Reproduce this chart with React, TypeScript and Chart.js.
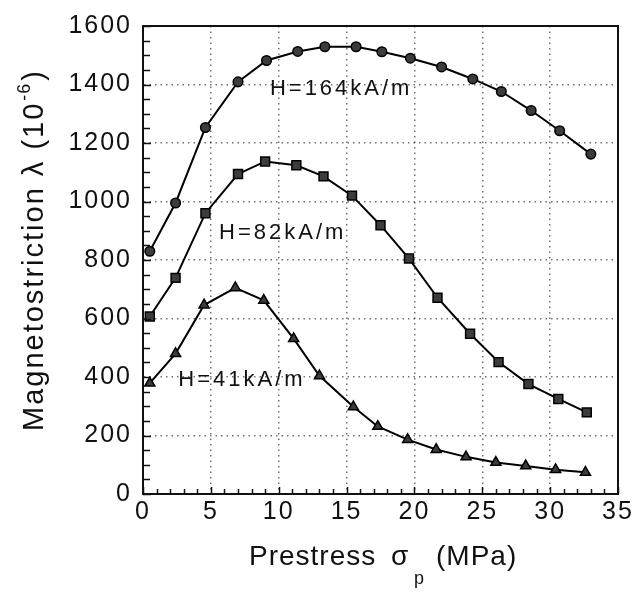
import { useEffect, useRef } from 'react';
import { Chart, registerables } from 'chart.js';

Chart.register(...registerables);

// ---- data ----
const xTickValues = [0, 5, 10, 15, 20, 25, 30, 35];
const yTickValues = [0, 200, 400, 600, 800, 1000, 1200, 1400, 1600];

const x164 = [0.5, 2.4, 4.6, 7.0, 9.1, 11.4, 13.4, 15.7, 17.6, 19.7, 22.0, 24.3, 26.4, 28.6, 30.7, 33.0];
const y164 = [830, 995, 1253, 1409, 1482, 1513, 1529, 1529, 1512, 1490, 1460, 1419, 1376, 1311, 1242, 1162];

const x82 = [0.5, 2.4, 4.6, 7.0, 9.0, 11.3, 13.3, 15.4, 17.5, 19.6, 21.7, 24.1, 26.2, 28.4, 30.6, 32.7];
const y82 = [607, 739, 960, 1094, 1137, 1124, 1086, 1020, 919, 805, 671, 548, 451, 376, 325, 279];

const x41 = [0.5, 2.4, 4.5, 6.8, 8.9, 11.1, 13.0, 15.5, 17.3, 19.5, 21.6, 23.8, 26.0, 28.2, 30.4, 32.6];
const y41 = [379, 480, 646, 705, 662, 531, 404, 298, 231, 186, 152, 127, 108, 96, 83, 74];

const seriesLabels = ['H=164kA/m', 'H=82kA/m', 'H=41kA/m'];
// label anchors in data coordinates (left edge x, vertical centre y)
const labelAnchorX = [9.35, 5.6, 2.6];
const labelAnchorY = [1386, 893, 390];

const xTitle = 'Prestress';
const xTitleSymbol = 'σ';
const xTitleSub = 'p';
const xTitleUnit = '(MPa)';
const yTitle = 'Magnetostriction λ (10';
const yTitleSup = '-6';
const yTitleEnd = ')';

const FONT = '"Liberation Sans", Arial, Helvetica, sans-serif';
const INK = '#111111';

const toPts = (xs: number[], ys: number[]) => xs.map((x, i) => ({ x, y: ys[i] }));

const decorPlugin = {
  id: 'decor',
  beforeLayout(chart: any) {
    chart.ctx.letterSpacing = '2px';
  },
  beforeDraw(chart: any) {
    chart.ctx.letterSpacing = '2px';
  },
  afterDraw(chart: any) {
    const { ctx, chartArea: a, scales } = chart;
    const xs = scales.x;
    const ys = scales.y;
    ctx.save();
    // inner minor ticks
    ctx.strokeStyle = INK;
    ctx.lineWidth = 1.5;
    ctx.setLineDash([]);
    ctx.beginPath();
    for (let v = 0; v <= 35; v += 1) {
      const px = Math.round(xs.getPixelForValue(v)) + 0.5;
      const len = v % 5 === 0 ? 7 : 5;
      ctx.moveTo(px, a.bottom);
      ctx.lineTo(px, a.bottom - len);
    }
    for (let v = 0; v <= 1600; v += 50) {
      const py = Math.round(ys.getPixelForValue(v)) + 0.5;
      const len = v % 200 === 0 ? 8 : 7;
      ctx.moveTo(a.left, py);
      ctx.lineTo(a.left + len, py);
    }
    ctx.stroke();
    // frame
    ctx.lineWidth = 2;
    ctx.strokeRect(a.left, a.top, a.right - a.left, a.bottom - a.top);

    // series annotations
    ctx.fillStyle = INK;
    ctx.font = `22px ${FONT}`;
    ctx.letterSpacing = '3px';
    ctx.textAlign = 'left';
    ctx.textBaseline = 'middle';
    seriesLabels.forEach((t, i) => {
      ctx.fillText(t, xs.getPixelForValue(labelAnchorX[i]), ys.getPixelForValue(labelAnchorY[i]));
    });

    // x title
    ctx.textBaseline = 'alphabetic';
    ctx.font = `28px ${FONT}`;
    ctx.letterSpacing = '1px';
    const bx = 249;
    const by = 565;
    ctx.fillText(xTitle, bx, by);
    ctx.fillText(xTitleSymbol, 391, by);
    ctx.font = `18px ${FONT}`;
    ctx.fillText(xTitleSub, 414, by + 19);
    ctx.font = `28px ${FONT}`;
    ctx.fillText(xTitleUnit, 436, by);

    // y title (rotated)
    ctx.save();
    ctx.translate(43, 431);
    ctx.rotate(-Math.PI / 2);
    ctx.font = `29px ${FONT}`;
    ctx.letterSpacing = '2px';
    let w = ctx.measureText(yTitle).width;
    ctx.fillText(yTitle, 0, 0);
    ctx.font = `18px ${FONT}`;
    ctx.letterSpacing = '1px';
    ctx.fillText(yTitleSup, w + 1, -13);
    w += ctx.measureText(yTitleSup).width + 3;
    ctx.font = `29px ${FONT}`;
    ctx.letterSpacing = '2px';
    ctx.fillText(yTitleEnd, w, 0);
    ctx.restore();

    ctx.restore();
    ctx.letterSpacing = '2px';
  },
};

const markerStyle = {
  borderColor: '#000000',
  borderWidth: 2,
  pointBackgroundColor: '#3c3c3c',
  pointBorderColor: '#000000',
  pointBorderWidth: 1.5,
  tension: 0,
  fill: false,
};

export default function App() {
  const ref = useRef<HTMLCanvasElement | null>(null);

  useEffect(() => {
    if (!ref.current) return;
    const chart = new Chart(ref.current, {
      type: 'line',
      data: {
        datasets: [
          { label: seriesLabels[0], data: toPts(x164, y164), pointStyle: 'circle', pointRadius: 4.8, ...markerStyle },
          { label: seriesLabels[1], data: toPts(x82, y82), pointStyle: 'rect', pointRadius: 6.3, ...markerStyle },
          { label: seriesLabels[2], data: toPts(x41, y41), pointStyle: 'triangle', pointRadius: 5.8, ...markerStyle },
        ],
      },
      options: {
        responsive: false,
        animation: false,
        events: [],
        layout: { padding: { left: 0, right: 19, top: 24, bottom: 0 } },
        plugins: {
          legend: { display: false },
          tooltip: { enabled: false },
          title: { display: false },
        },
        scales: {
          x: {
            type: 'linear',
            min: 0,
            max: 35,
            afterBuildTicks: (s: any) => {
              s.ticks = xTickValues.map((v) => ({ value: v }));
            },
            afterFit: (s: any) => {
              s.height = 99;
            },
            ticks: {
              autoSkip: false,
              maxRotation: 0,
              padding: 3,
              color: INK,
              font: { family: FONT, size: 25 },
              callback: (v: any) => String(v),
            },
            grid: {
              drawTicks: false,
              color: 'rgba(0,0,0,0.55)',
              lineWidth: 1.5,
            },
            border: { display: true, color: INK, width: 2, dash: [1.5, 4] },
          },
          y: {
            type: 'linear',
            min: 0,
            max: 1600,
            afterBuildTicks: (s: any) => {
              s.ticks = yTickValues.map((v) => ({ value: v }));
            },
            afterFit: (s: any) => {
              s.width = 143;
            },
            ticks: {
              padding: 11,
              color: INK,
              font: { family: FONT, size: 25 },
              callback: (v: any) => String(v),
            },
            grid: {
              drawTicks: false,
              color: 'rgba(0,0,0,0.55)',
              lineWidth: 1.5,
            },
            border: { display: true, color: INK, width: 2, dash: [1.5, 4] },
          },
        },
      },
      plugins: [decorPlugin],
    } as any);
    return () => chart.destroy();
  }, []);

  return (
    <div style={{ position: 'absolute', left: 0, top: 0, width: 637, height: 593, background: '#ffffff' }}>
      <canvas ref={ref} width={637} height={593} />
    </div>
  );
}
